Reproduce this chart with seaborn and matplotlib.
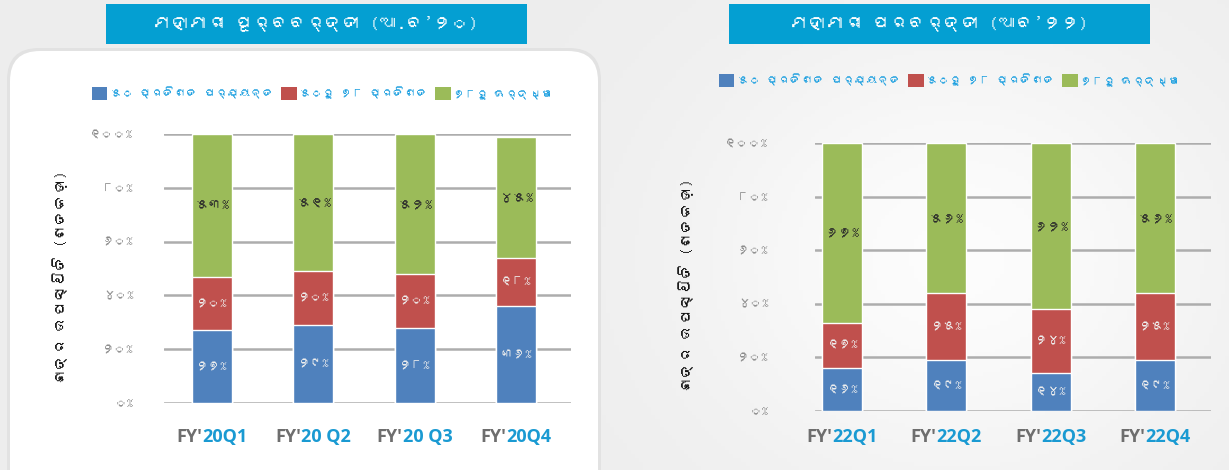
import matplotlib
matplotlib.use("Agg")
import matplotlib.pyplot as plt
from matplotlib import font_manager
from matplotlib.patches import Rectangle, FancyBboxPatch, Patch
from matplotlib.transforms import blended_transform_factory, ScaledTranslation
import seaborn as sns
import numpy as np
import pandas as pd

# data (percent of schools per attendance band)
quarters_pre = ["FY'20Q1", "FY'20 Q2", "FY'20 Q3", "FY'20Q4"]
upto50_pre = [27, 29, 28, 36]
mid_pre = [20, 20, 20, 18]
above78_pre = [53, 51, 52, 45]

quarters_post = ["FY'22Q1", "FY'22Q2", "FY'22Q3", "FY'22Q4"]
upto50_post = [16, 19, 14, 19]
mid_post = [17, 25, 24, 25]
above78_post = [67, 56, 62, 56]

title_pre = "ମହାମାରୀ ପୂର୍ବବର୍ତ୍ତୀ (ଆ.ବ’୨୦)"
title_post = "ମହାମାରୀ ପରବର୍ତ୍ତୀ (ଆବ’୨୨)"
legend_labels = ["୫୦ ପ୍ରତିଶତ ପର୍ଯ୍ୟନ୍ତ", "୫୦ରୁ ୭୮ ପ୍ରତିଶତ", "୭୮ରୁ ଊର୍ଦ୍ଧ୍ୱ"]
ylabel_text = "ଛାତ୍ର ଉପସ୍ଥିତି (ଶତକଡ଼ା)"
yticks = [0, 20, 40, 60, 80, 100]

ODIA_DIGITS = str.maketrans("0123456789", "୦୧୨୩୪୫୬୭୮୯")
def odia(n):
  return str(n).translate(ODIA_DIGITS) + "%"

# look for any installed font that can draw Odia
odia_family = None
try:
  from fontTools.ttLib import TTFont
  for f in font_manager.fontManager.ttflist:
    try:
      tt = TTFont(f.fname, fontNumber=0, lazy=True)
      cmap = tt.getBestCmap() or {}
      if 0x0B2E in cmap:
        odia_family = f.name
        break
    except Exception:
      pass
except Exception:
  pass

sns.set_theme(style="white")
fams = ([odia_family] if odia_family else []) + ["DejaVu Sans"]
plt.rcParams["font.family"] = fams

colours = ["#4f81bd", "#c0504d", "#9bbb59"]
W, H = 1229, 470
fig = plt.figure(figsize=(W / 100, H / 100), dpi=100)
fig.patch.set_facecolor("#eeeeee")

# background: soft gradient + white rounded panel on the left
bg = fig.add_axes([0, 0, 1, 1], zorder=-10)
gx = np.linspace(0, 1, 300)
gy = np.linspace(0, 1, 120)
GX, GY = np.meshgrid(gx, gy)
shade = 0.93 + 0.06 * np.exp(-((GX - 0.78) ** 2) / 0.05 - ((GY - 0.55) ** 2) / 0.25)
bg.imshow(np.dstack([shade] * 3), extent=[0, W, 0, H], aspect="auto", origin="upper")
bg.add_patch(FancyBboxPatch((7, -40), 594, 462, boxstyle="round,pad=0,rounding_size=32",
                            fc="#e2e2e2", ec="none"))
bg.add_patch(FancyBboxPatch((10, -40), 588, 459, boxstyle="round,pad=0,rounding_size=30",
                            fc="white", ec="none"))
bg.set_xlim(0, W)
bg.set_ylim(0, H)
bg.axis("off")

def px(x0, y0, x1, y1):
  return [x0 / W, 1 - y1 / H, (x1 - x0) / W, (y1 - y0) / H]

def draw_panel(rect, quarters, low, mid, high, width, xlim, tick_pad, title, title_box,
               legend_xy, ylabel_xy):
  ax = fig.add_axes(rect)
  df = pd.DataFrame({"quarter": quarters, "low": low, "mid": mid, "high": high})
  df["cum_mid"] = df["low"] + df["mid"]
  df["cum_high"] = df["cum_mid"] + df["high"]
  sns.barplot(data=df, x="quarter", y="cum_high", color=colours[2], width=width,
              saturation=1, ax=ax, zorder=3)
  sns.barplot(data=df, x="quarter", y="cum_mid", color=colours[1], width=width,
              saturation=1, ax=ax, zorder=3)
  sns.barplot(data=df, x="quarter", y="low", color=colours[0], width=width,
              saturation=1, ax=ax, zorder=3)
  for i, r in df.iterrows():
    ax.text(i, r["low"] / 2, odia(r["low"]), ha="center", va="center",
            color="#eeeeee", fontsize=9, zorder=4)
    ax.text(i, r["low"] + r["mid"] / 2, odia(r["mid"]), ha="center", va="center",
            color="#eeeeee", fontsize=9, zorder=4)
    ax.text(i, r["cum_mid"] + r["high"] / 2, odia(r["high"]), ha="center", va="center",
            color="#2b2b2b", fontsize=10, zorder=4)
  ax.set_ylim(0, 100)
  ax.set_xlim(*xlim)
  ax.set_yticks(yticks)
  ax.set_yticklabels([odia(v) for v in yticks], color="#8c8c8c", fontsize=9)
  ax.tick_params(axis="y", length=0, pad=tick_pad * 0.72)
  ax.set_xticks([])
  ax.set_xlabel("")
  ax.set_ylabel("")
  ax.grid(axis="y", color="#adadad", linewidth=1.8, zorder=0)
  ax.set_axisbelow(True)
  ax.patch.set_alpha(0)
  for s in ax.spines.values():
    s.set_visible(False)

  # two-tone category labels: "FY'" grey, rest blue
  renderer = fig.canvas.get_renderer()
  trans = blended_transform_factory(ax.transData, fig.transFigure)
  for i, lab in enumerate(quarters):
    head, tail = lab[:3], lab[3:]
    kw = dict(va="center", ha="left", fontsize=13, fontweight="bold", family="Open Sans")
    t1 = ax.text(i, 1 - 437 / H, head, color="#6e6e6e", transform=trans, **kw)
    t2 = ax.text(i, 1 - 437 / H, tail, color="#1a9ad2", transform=trans, **kw)
    w1 = t1.get_window_extent(renderer).width
    w2 = t2.get_window_extent(renderer).width
    off = -(w1 + w2) / 2
    t1.set_transform(trans + ScaledTranslation(off / fig.dpi, 0, fig.dpi_scale_trans))
    t2.set_transform(trans + ScaledTranslation((off + w1) / fig.dpi, 0, fig.dpi_scale_trans))

  # title box
  bx0, by0, bx1, by1 = title_box
  fig.patches.append(Rectangle((bx0 / W, 1 - by1 / H), (bx1 - bx0) / W, (by1 - by0) / H,
                               transform=fig.transFigure, fc="#049fd2", ec="none", zorder=1))
  fig.text((bx0 + bx1) / 2 / W, 1 - (by0 + by1) / 2 / H, title, color="white",
           fontsize=13, ha="center", va="center")

  handles = [Patch(facecolor=c, edgecolor="none") for c in colours]
  fig.legend(handles, legend_labels, loc="center left",
             bbox_to_anchor=(legend_xy[0] / W, 1 - legend_xy[1] / H), ncol=3,
             frameon=False, handlelength=1.3, handleheight=1.3, handletextpad=0.2,
             columnspacing=0.6, labelcolor="#1ea0e0", fontsize=8.5, borderaxespad=0,
             borderpad=0)
  fig.text(ylabel_xy[0] / W, 1 - ylabel_xy[1] / H, ylabel_text, rotation=90,
           ha="center", va="center", fontsize=11, color="#111111")
  return ax

draw_panel(px(164, 134, 571, 403), quarters_pre, upto50_pre, mid_pre, above78_pre,
           0.395, (-0.474, 3.543), 31, title_pre, (106, 4, 527, 44), (92, 93), (60, 277))
draw_panel(px(815, 143, 1211, 411), quarters_post, upto50_post, mid_post, above78_post,
           0.384, (-0.26, 3.54), 47, title_post, (729, 4, 1150, 44), (719, 80), (686, 285))

fig.savefig("out.png", dpi=100)
